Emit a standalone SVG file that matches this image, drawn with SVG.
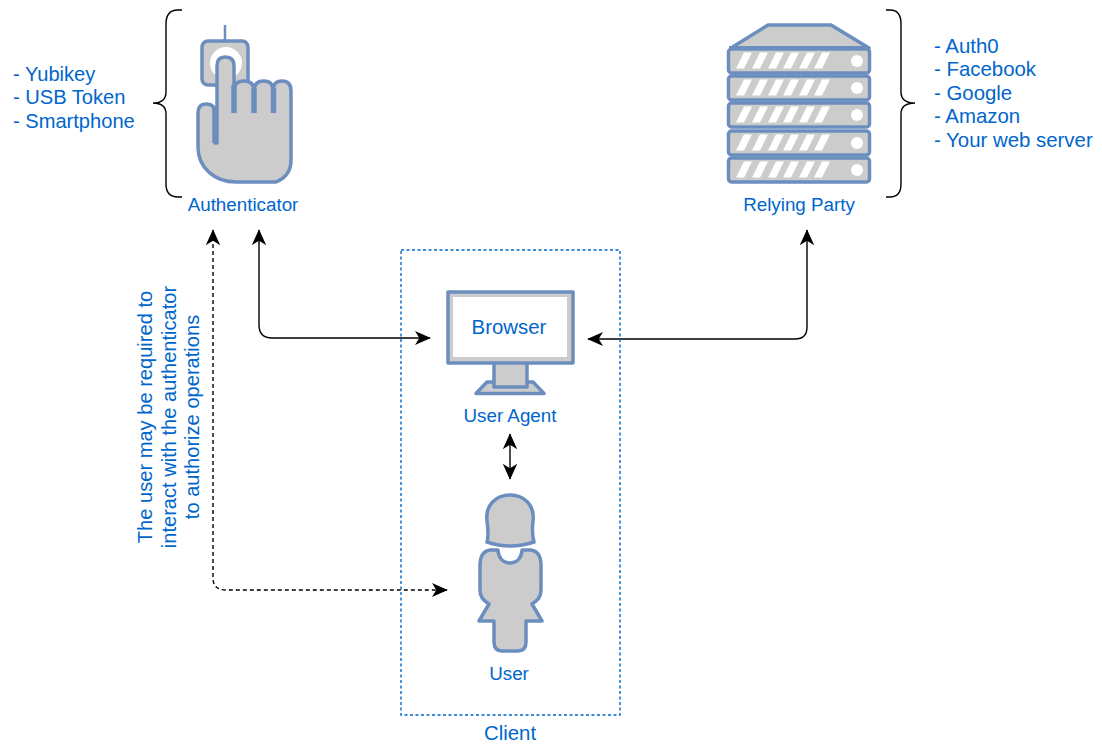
<svg xmlns="http://www.w3.org/2000/svg" width="1102" height="747" viewBox="0 0 1102 747">
<style>
text{font-family:"Liberation Sans",Arial,sans-serif;fill:#0066cc;font-size:18.8px}
.m{text-anchor:middle}
.l{font-size:20.4px}
.k{font-size:20.1px}
.s{fill:#ccc;stroke:#6c8ebf;stroke-width:3.500;stroke-linejoin:round}
.w{fill:#fff;stroke:none}
.c{fill:none;stroke:#000;stroke-width:1.4}
.b{fill:none;stroke:#000;stroke-width:1.4}
</style>
<defs>
<marker id="a" viewBox="0 0 10 10" refX="9.500" refY="5" markerWidth="16" markerHeight="16" markerUnits="userSpaceOnUse" orient="auto-start-reverse"><path d="M0 0.500L10 5L0 9.500L2.800 5Z" fill="#000"/></marker>
<g id="row"><rect class="s" x="728.500" y="0" width="141" height="24" rx="3"/>
<path class="w" d="M744 3.500h8l-8 16h-8ZM760 3.500h8l-8 16h-8ZM776 3.500h8l-8 16h-8ZM791 3.500h8l-8 16h-8ZM807 3.500h8l-8 16h-8ZM822 3.500h8l-8 16h-8Z"/>
<circle class="w" cx="857" cy="12" r="6"/></g>
</defs>
<g id="connectors">
<path class="c" marker-start="url(#a)" marker-end="url(#a)" d="M259 230V325Q259 338 272 338H430"/>
<path class="c" marker-start="url(#a)" marker-end="url(#a)" d="M588 339H795Q807 339 807 327V230"/>
<path class="c" stroke-dasharray="4 3" marker-start="url(#a)" marker-end="url(#a)" d="M213 230V578Q213 590 226 590H447"/>
<path class="c" marker-start="url(#a)" marker-end="url(#a)" d="M510 434V479"/>
</g>
<g id="left-list"><text class="k" x="13" y="81">- Yubikey</text><text class="k" x="13" y="104">- USB Token</text><text class="k" x="13" y="128">- Smartphone</text></g>
<path id="left-brace" class="b" d="M182 10H178Q166 10 166 24V92Q166 103 153 103Q166 103 166 114V184Q166 197 178 197H182"/>
<g id="authenticator">
<path d="M225 25V40" fill="none" stroke="#6c8ebf" stroke-width="2.500"/>
<rect class="s" x="202" y="41" width="46" height="44" rx="6"/>
<circle class="w" cx="226" cy="63" r="16"/>
<path class="s" d="M215 143V113Q215 104 206 104Q198 104 198 113V147C198 168 215 182 236 182H276Q291 176 291 160V91Q291 81 282 81Q273 81 273 91Q273 81 264 81Q254 81 254 91Q254 81 244 81Q234 81 234 91V66Q234 57 225 57Q217 57 217 66V143Z"/>
<path d="M215 143V108M234 85V113M254 88V113M273.500 88V113" fill="none" stroke="#6c8ebf" stroke-width="5.500"/>
<text class="m" x="243" y="211">Authenticator</text>
</g>
<g id="relying-party">
<path class="s" d="M731 48L768 25H831L869 48Z"/>
<path d="M729 46H869V50H729Z" fill="#6c8ebf"/>
<use href="#row" y="49"/><use href="#row" y="76"/><use href="#row" y="103"/><use href="#row" y="131"/><use href="#row" y="158"/>
<text class="m" x="799" y="211">Relying Party</text>
</g>
<path id="right-brace" class="b" d="M886 10H890Q901 10 901 24V92Q901 103 915 103Q901 103 901 114V184Q901 197 890 197H886"/>
<g id="right-list"><text class="l" x="934" y="53">- Auth0</text><text class="l" x="934" y="76">- Facebook</text><text class="l" x="934" y="100">- Google</text><text class="l" x="934" y="123">- Amazon</text><text class="l" x="934" y="147">- Your web server</text></g>
<g id="annotation"><text class="m k" transform="translate(152 417) rotate(-90)">The user may be required to</text><text class="m k" transform="translate(176 417) rotate(-90)">interact with the authenticator</text><text class="m k" transform="translate(199 417) rotate(-90)">to authorize operations</text></g>
<g id="client"><rect x="401" y="250" width="219" height="465" fill="none" stroke="#0066cc" stroke-width="1.400" stroke-dasharray="3 2.500"/><text class="m l" x="510" y="740">Client</text></g>
<g id="user-agent">
<path class="s" d="M476 393.500L487 382H533L544 393.500Z"/>
<rect class="s" x="494" y="362" width="33" height="25"/>
<rect class="s" x="448" y="292" width="125" height="71"/>
<rect x="453" y="297" width="114" height="60" fill="#fff"/>
<text class="m l" x="509" y="334">Browser</text>
<text class="m" x="510" y="422">User Agent</text>
</g>
<g id="user">
<path class="s" d="M487 521C485 505 496 495 510 495C524 495 535 505 533 521C532 530 532 535 534 542Q510 550 487 542C489 535 488 530 487 521Z"/>
<path class="s" d="M498 550V551C499 559 504 563 510 563C516 563 521 559 522 551V550H531C538 551 541 557 541 564V590C541 597 538 600 532 604L542 621H526V642Q526 651 518 651H502Q494 651 494 642V621H479L489 604C483 600 480 597 480 590V564C480 557 483 551 490 550Z"/>
<text class="m" x="509" y="680">User</text>
</g>
</svg>
